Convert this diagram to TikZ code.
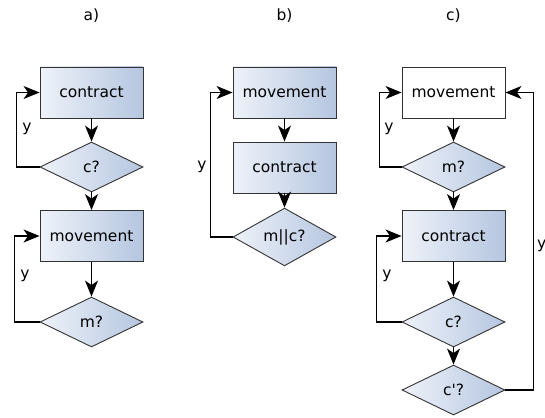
\documentclass[tikz,border=0pt]{standalone}
\usepackage{fontspec}
\setmainfont{DejaVu Sans}[Ligatures=TeXOff]
\usetikzlibrary{shapes.geometric,arrows.meta}
\definecolor{fillA}{HTML}{EEF2F9}
\definecolor{fillB}{HTML}{B5C6E0}
\definecolor{edge}{HTML}{333333}
\tikzset{
  every node/.style={font=\fontsize{15.5}{18}\selectfont},
  procbox/.style={draw=edge, line width=0.9pt, rectangle, minimum width=103pt, minimum height=51pt, inner sep=0pt, left color=fillA, right color=fillB},
  plainbox/.style={draw=edge, line width=0.9pt, rectangle, minimum width=103pt, minimum height=51pt, inner sep=0pt, fill=white},
  decide/.style={draw=edge, line width=0.9pt, diamond, minimum width=103pt, minimum height=50pt, inner sep=0pt, left color=fillA, right color=fillB},
  arr/.style={draw=black, line width=1.1pt, -{Stealth[length=16pt,width=13pt,inset=4.5pt,fill=black]}},
  lbl/.style={inner sep=0pt},
}
\begin{document}
\begin{tikzpicture}[x=1pt,y=-1pt]
\useasboundingbox (0,0) rectangle (545,417);
% titles
\node[lbl] (ta) at (91.5,16) {a)};
\node[lbl] (tb) at (284.5,16) {b)};
\node[lbl] (tc) at (453.5,16) {c)};
% column a
\node[procbox] (a1) at (91.5,92.5) {contract};
\node[decide] (a2) at (91.5,167) {c?};
\node[procbox] (a3) at (91.5,236) {movement};
\node[decide] (a4) at (91.5,322) {m?};
\draw[arr] (a1) -- (a2);
\draw[arr] (a2) -- (a3);
\draw[arr] (a3) -- (a4);
\draw[arr] (a2.west) -- ++(-23,0) |- (a1.west);
\draw[arr] (a4.west) -- ++(-25,0) |- (a3.west);
\node[lbl] (ya1) at (27,129) {y};
\node[lbl] (ya2) at (25,276) {y};
% column b
\node[procbox] (b1) at (284.5,92.5) {movement};
\node[procbox] (b2) at (284.5,167.5) {contract};
\node[decide] (b3) at (284.5,237) {m||c?};
\draw[arr] (b1) -- (b2);
\draw[arr] (b2) -- (b3);
\draw[arr] (b3.west) -- ++(-22,0) |- (b1.west);
\node[lbl] (yb1) at (202,167) {y};
% column c
\node[plainbox] (c1) at (453.5,92.5) {movement};
\node[decide] (c2) at (453.5,167) {m?};
\node[procbox] (c3) at (453.5,236) {contract};
\node[decide] (c4) at (453.5,322) {c?};
\node[decide] (c5) at (453.5,390) {c'?};
\draw[arr] (c1) -- (c2);
\draw[arr] (c2) -- (c3);
\draw[arr] (c3) -- (c4);
\draw[arr] (c4) -- (c5);
\draw[arr] (c2.west) -- ++(-22,0) |- (c1.west);
\draw[arr] (c4.west) -- ++(-25,0) |- (c3.west);
\draw[arr] (c5.east) -- ++(28,0) |- (c1.east);
\node[lbl] (yc1) at (389,129) {y};
\node[lbl] (yc2) at (387,276) {y};
\node[lbl, anchor=west] (yc3) at (537,246) {y};
\end{tikzpicture}
\end{document}
